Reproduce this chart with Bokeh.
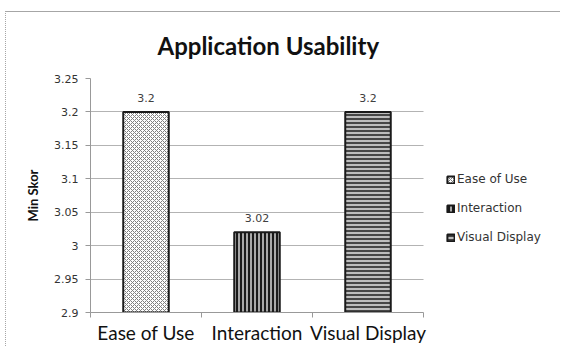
import numpy as np
from bokeh.plotting import figure
from bokeh.models import (ColumnDataSource, FixedTicker, Legend, LegendItem,
                          LabelSet, Range1d)
from bokeh.core.properties import value
from bokeh.embed import file_html
from bokeh.resources import INLINE

# Data
categories = ["Ease of Use", "Interaction", "Visual Display"]
scores = [3.2, 3.02, 3.2]
score_labels = ["3.2", "3.02", "3.2"]
y_ticks = [2.9, 2.95, 3.0, 3.05, 3.1, 3.15, 3.2, 3.25]
y_tick_labels = ["2.9", "2.95", "3", "3.05", "3.1", "3.15", "3.2", "3.25"]

# Per-bar fill styles
fill_colors = ["white", "#a8a8a8", "#bdbdbd"]
hatch_patterns = ["diagonal_cross", "vertical_line", "horizontal_line"]
hatch_colors = ["#808080", "#1a1a1a", "#1e1e1e"]
hatch_scales = [4, 4, 4]
hatch_weights = [1, 2, 1.5]

FONT = "Lato"
SMALL_FONT = "DejaVu Sans"
TEXT = "#333333"

n = len(categories)
x_pos = np.arange(n) + 0.5

# The plotting frame runs past the bars so the legend can sit on its right;
# each category slot is 111 px wide.
SLOT = 111
FRAME_W = 470
p = figure(frame_width=FRAME_W, frame_height=234, output_backend="svg",
           toolbar_location=None,
           x_range=Range1d(0, FRAME_W / SLOT), y_range=Range1d(2.9, 3.25),
           min_border_left=84, min_border_right=0, min_border_top=66,
           min_border_bottom=34, margin=(11, 0, 0, 5))
p.styles = {"border-top": "1px solid #a6a6a6", "border-left": "1px dotted #a6a6a6"}
p.outline_line_color = None
p.background_fill_color = "white"
p.border_fill_color = "white"

# Title
p.title.text = "Application Usability"
p.title.align = "left"
p.title.vertical_align = "top"
p.title.text_font = FONT
p.title.text_font_size = "24px"
p.title.text_font_style = "bold"
p.title.text_color = "#111111"
p.title.offset = 67
p.title.standoff = 34

# Bars, one renderer each so the legend shows every pattern
items = []
for i, cat in enumerate(categories):
    src = ColumnDataSource(dict(x=[x_pos[i]], top=[scores[i]]))
    r = p.vbar(x="x", top="top", bottom=2.9, width=0.41, source=src,
               fill_color=fill_colors[i], line_color="#1a1a1a", line_width=2,
               hatch_pattern=hatch_patterns[i], hatch_color=hatch_colors[i],
               hatch_scale=hatch_scales[i], hatch_weight=hatch_weights[i])
    items.append(LegendItem(label=cat, renderers=[r]))

# Value labels above each bar
lbl_src = ColumnDataSource(dict(x=x_pos, y=scores, t=score_labels))
p.add_layout(LabelSet(x="x", y="y", text="t", source=lbl_src, y_offset=10,
                      text_align="center", text_baseline="bottom",
                      text_font=value(SMALL_FONT), text_font_size="11px",
                      text_color="#404040"))

# Legend
legend = Legend(items=items, location=(356, 65), padding=0, margin=0,
                spacing=9, glyph_width=9, glyph_height=9, label_height=20,
                label_standoff=2, label_text_font=SMALL_FONT,
                label_text_font_size="12px", label_text_color=TEXT,
                border_line_color=None, background_fill_alpha=0)
p.add_layout(legend, "center")

# Y axis
p.yaxis.ticker = FixedTicker(ticks=y_ticks)
p.yaxis.major_label_overrides = {t: l for t, l in zip(y_ticks, y_tick_labels)}
p.yaxis.axis_label = "Min Skor"
p.yaxis.axis_label_text_font = FONT
p.yaxis.axis_label_text_font_size = "13px"
p.yaxis.axis_label_text_font_style = "bold"
p.yaxis.axis_label_text_color = "#111111"
p.yaxis.axis_label_standoff = 10
p.yaxis.major_label_text_font = SMALL_FONT
p.yaxis.major_label_text_font_size = "11px"
p.yaxis.major_label_text_color = TEXT
p.yaxis.axis_line_color = "#999999"
p.yaxis.major_tick_line_color = "#999999"
p.yaxis.major_tick_out = 5
p.yaxis.major_tick_in = 0
p.yaxis.minor_tick_line_color = None
p.yaxis.major_label_standoff = 7

# X axis: labels at category centres, tick marks at category boundaries
p.xaxis.ticker = FixedTicker(ticks=list(x_pos), minor_ticks=list(range(n + 1)))
p.xaxis.major_label_overrides = {float(x): c for x, c in zip(x_pos, categories)}
p.xaxis.bounds = (0, n)
p.xaxis.major_tick_line_color = None
p.xaxis.major_tick_out = 5
p.xaxis.minor_tick_line_color = "#999999"
p.xaxis.minor_tick_out = 5
p.xaxis.minor_tick_in = 0
p.xaxis.axis_line_color = "#999999"
p.xaxis.major_label_text_font = FONT
p.xaxis.major_label_text_font_size = "19px"
p.xaxis.major_label_text_color = "#111111"
p.xaxis.major_label_standoff = 3

# Grid lines stop at the last category
p.xgrid.grid_line_color = None
p.ygrid.grid_line_color = "#b3b3b3"
p.ygrid.ticker = p.yaxis.ticker
p.ygrid.cross_bounds = (0, n)

open("out.html", "w").write(file_html(p, INLINE))
